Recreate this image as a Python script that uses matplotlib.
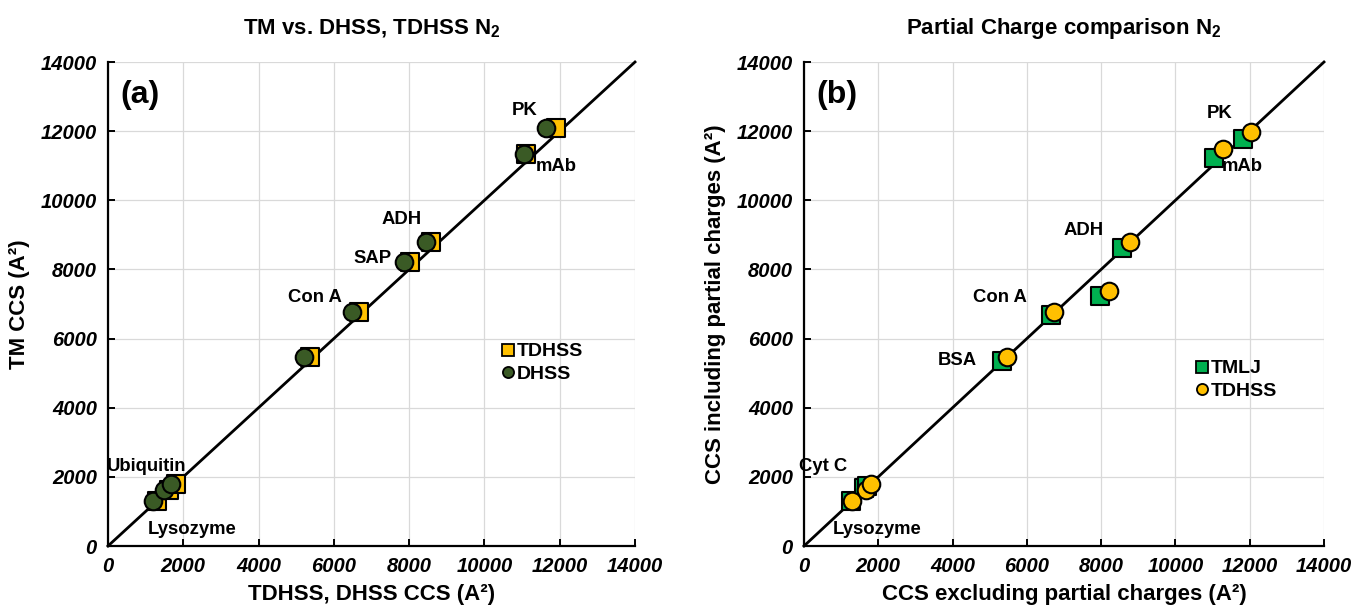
import numpy as np
import matplotlib.pyplot as plt
from matplotlib.lines import Line2D

plt.rcParams['font.family'] = ['Liberation Sans', 'DejaVu Sans']
plt.rcParams['font.weight'] = 'bold'
plt.rcParams['mathtext.fontset'] = 'custom'
plt.rcParams['mathtext.rm'] = 'Liberation Sans:bold'
plt.rcParams['mathtext.it'] = 'Liberation Sans:bold:italic'
plt.rcParams['mathtext.bf'] = 'Liberation Sans:bold'

# panel (a): TM CCS vs TDHSS / DHSS CCS
tm_ccs = [1300, 1620, 1800, 5480, 6780, 8225, 8805, 11335, 12080]
tdhss_a = [1310, 1618, 1796, 5375, 6663, 8019, 8592, 11103, 11895]
dhss_a = [1194, 1485, 1663, 5212, 6492, 7876, 8458, 11055, 11628]
labels_a = ['Ubiquitin', 'Lysozyme', 'Con A', 'SAP', 'ADH', 'PK', 'mAb']
label_pos_a = [(1036, 2314), (2231, 463), (5498, 7174), (7038, 8302),
               (7809, 9430), (11076, 12583), (11899, 10963)]

# panel (b): with vs without partial charges
tmlj_x = [1274, 1620, 1683, 5341, 6648, 7964, 8564, 11044, 11826]
tmlj_y = [1306, 1689, 1750, 5337, 6683, 7231, 8625, 11221, 11779]
tdhss_bx = [1301, 1656, 1801, 5455, 6743, 8202, 8774, 11283, 12036]
tdhss_by = [1306, 1634, 1798, 5462, 6779, 7385, 8788, 11490, 11971]
labels_b = ['Cyt C', 'Lysozyme', 'BSA', 'Con A', 'ADH', 'PK', 'mAb']
label_pos_b = [(511, 2314), (1965, 463), (4118, 5380), (5276, 7174),
               (7537, 9112), (11198, 12496), (11790, 10963)]

ticks = np.arange(0, 14001, 2000)

yellow = '#FFC000'
dark_green = '#3A5A25'
green = '#00B050'

fig = plt.figure(figsize=(13.52, 6.08), dpi=100)
ax1 = fig.add_axes([108/1352, 62/608, 527/1352, 484/608])
ax2 = fig.add_axes([804/1352, 62/608, 520/1352, 484/608])


def style_axes(ax):
    ax.set_xlim(0, 14000)
    ax.set_ylim(0, 14000)
    ax.set_xticks(ticks)
    ax.set_yticks(ticks)
    ax.grid(True, color='#d9d9d9', lw=0.9)
    ax.set_axisbelow(True)
    for s in ['top', 'right']:
        ax.spines[s].set_visible(False)
    for s in ['left', 'bottom']:
        ax.spines[s].set_linewidth(1.6)
    ax.tick_params(direction='in', length=5, width=1.4, labelsize=14.5, pad=8)
    for lab in ax.get_xticklabels() + ax.get_yticklabels():
        lab.set_fontstyle('italic')
        lab.set_fontweight('bold')
    ax.plot([0, 14000], [0, 14000], color='black', lw=2, zorder=2, clip_on=False)


style_axes(ax1)
style_axes(ax2)

# (a)
ax1.scatter(tdhss_a, tm_ccs, marker='s', s=160, color=yellow, edgecolor='black',
            linewidth=1.5, zorder=3)
ax1.scatter(dhss_a, tm_ccs, marker='o', s=160, color=dark_green, edgecolor='black',
            linewidth=1.5, zorder=4)
for name, (x, y) in zip(labels_a, label_pos_a):
    ax1.text(x, y, name, fontsize=13.3, fontweight='bold', ha='center', va='center', zorder=5)
ax1.text(330, 13050, '(a)', fontsize=23, fontweight='bold', ha='left', va='center')
ax1.set_title('TM vs. DHSS, TDHSS N$_2$', fontsize=16, fontweight='bold', pad=20)
ax1.set_xlabel('TDHSS, DHSS CCS (A²)', fontsize=16, fontweight='bold', labelpad=6)
ax1.set_ylabel('TM CCS (A²)', fontsize=16, fontweight='bold', labelpad=8)
h_a = [Line2D([], [], ls='none', marker='s', ms=8, mfc=yellow, mec='black', mew=1.3),
       Line2D([], [], ls='none', marker='o', ms=8, mfc=dark_green, mec='black', mew=1.3)]
ax1.legend(h_a, ['TDHSS', 'DHSS'], loc='upper left', bbox_to_anchor=(0.732, 0.44),
           frameon=False, handlelength=0.5, handletextpad=0.2, labelspacing=0.25,
           borderpad=0, prop={'weight': 'bold', 'size': 14})

# (b)
ax2.scatter(tmlj_x, tmlj_y, marker='s', s=160, color=green, edgecolor='black',
            linewidth=1.5, zorder=3)
ax2.scatter(tdhss_bx, tdhss_by, marker='o', s=160, color=yellow, edgecolor='black',
            linewidth=1.5, zorder=4)
for name, (x, y) in zip(labels_b, label_pos_b):
    ax2.text(x, y, name, fontsize=13.3, fontweight='bold', ha='center', va='center', zorder=5)
ax2.text(330, 13050, '(b)', fontsize=23, fontweight='bold', ha='left', va='center')
ax2.set_title('Partial Charge comparison N$_2$', fontsize=16, fontweight='bold', pad=20)
ax2.set_xlabel('CCS excluding partial charges (A²)', fontsize=16, fontweight='bold', labelpad=6)
ax2.set_ylabel('CCS including partial charges (A²)', fontsize=16, fontweight='bold', labelpad=8)
h_b = [Line2D([], [], ls='none', marker='s', ms=8, mfc=green, mec='black', mew=1.3),
       Line2D([], [], ls='none', marker='o', ms=8, mfc=yellow, mec='black', mew=1.3)]
ax2.legend(h_b, ['TMLJ', 'TDHSS'], loc='upper left', bbox_to_anchor=(0.738, 0.405),
           frameon=False, handlelength=0.5, handletextpad=0.2, labelspacing=0.25,
           borderpad=0, prop={'weight': 'bold', 'size': 14})

fig.savefig('out.png', dpi=100)
